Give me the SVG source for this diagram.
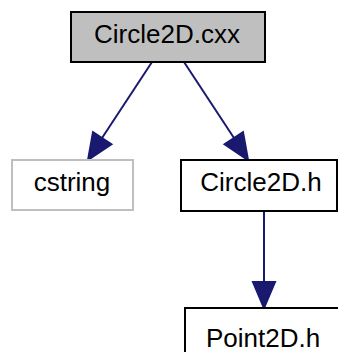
<svg xmlns="http://www.w3.org/2000/svg" width="338" height="352" viewBox="0 0 338 352">
<style>
.box{fill:#ffffff;stroke:#000000;stroke-width:2}
.t{font-family:"Liberation Sans",Arial,Helvetica,sans-serif;font-size:26px;fill:#000000;text-anchor:middle}
.e{stroke:#191970;stroke-width:2;fill:none}
.ah{fill:#191970;stroke:#191970;stroke-width:2}
</style>
<rect width="338" height="352" fill="#ffffff"/>
<g id="connectors">
<path class="e" d="M152,62 L102,138"/>
<polygon class="ah" points="88,160 111.4,144.2 93,132.2"/>
<path class="e" d="M184,62 L234,138"/>
<polygon class="ah" points="248,160 243,132.2 224.6,144.2"/>
<path class="e" d="M264,211 L264,282"/>
<polygon class="ah" points="264,308 253,282 275,282"/>
</g>
<g id="node-circle2d-cxx">
<rect x="71" y="12" width="194" height="50" fill="#bfbfbf" stroke="#000000" stroke-width="2"/>
<text class="t" x="167" y="43">Circle2D.cxx</text>
</g>
<g id="node-cstring">
<rect x="12" y="160" width="121" height="50" fill="#ffffff" stroke="#bfbfbf" stroke-width="2"/>
<text class="t" x="72" y="191">cstring</text>
</g>
<g id="node-circle2d-h">
<rect class="box" x="181" y="160" width="156" height="51"/>
<text class="t" x="261" y="191">Circle2D.h</text>
</g>
<g id="node-point2d-h">
<rect class="box" x="185" y="308" width="160" height="60"/>
<text class="t" x="263" y="347">Point2D.h</text>
</g>
</svg>
